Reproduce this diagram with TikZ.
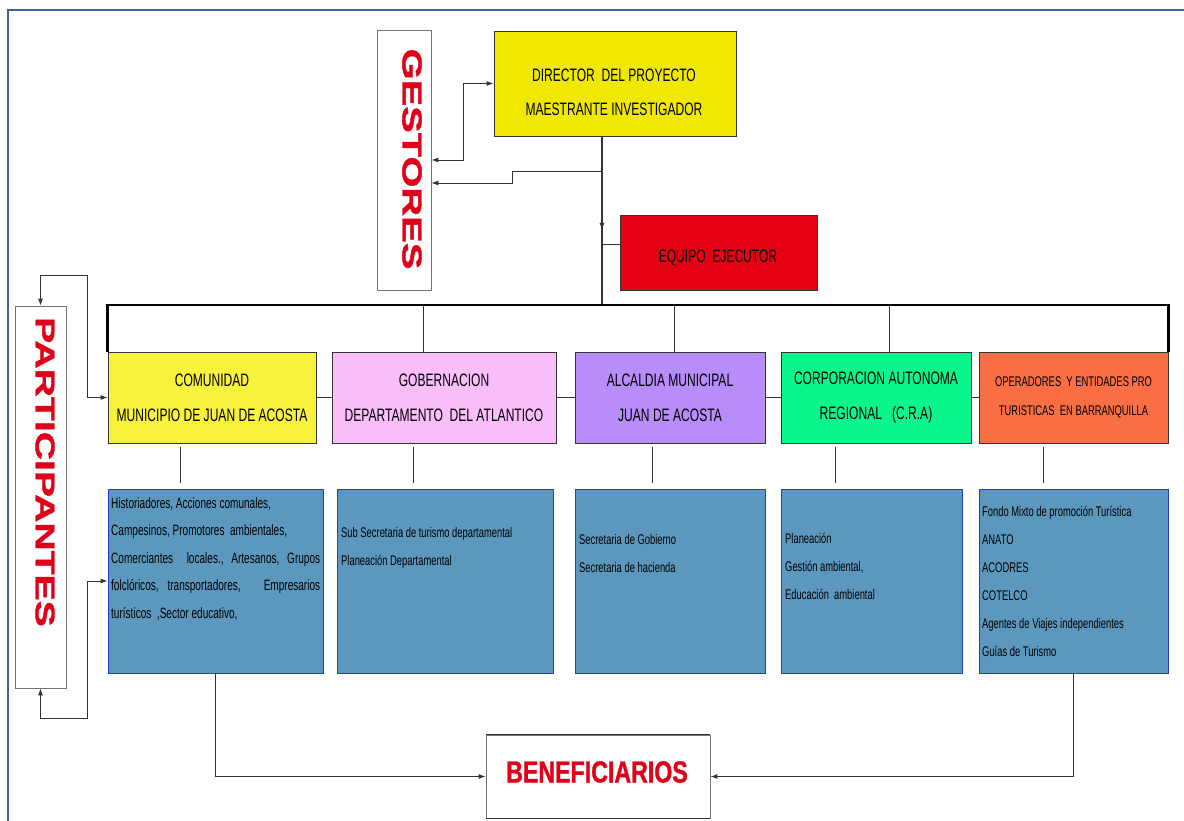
\documentclass[tikz,border=0pt]{standalone}
\usepackage{fontspec}
\setmainfont{Liberation Sans}
\newfontfamily\narrowfont{Liberation Sans}[FakeStretch=0.67]
\newfontfamily\widefont{Liberation Sans}[FakeStretch=1.45,FakeBold=1.5]
\newfontfamily\tightfont{Liberation Sans}[FakeStretch=0.76,FakeBold=1]
\usetikzlibrary{arrows.meta}
\definecolor{frameblue}{RGB}{62,100,160}
\definecolor{diryellow}{RGB}{240,232,0}
\definecolor{comyellow}{RGB}{248,242,60}
\definecolor{gobpink}{RGB}{250,190,250}
\definecolor{alcpurple}{RGB}{184,140,250}
\definecolor{corpgreen}{RGB}{10,245,140}
\definecolor{operorange}{RGB}{250,110,70}
\definecolor{ejered}{RGB}{228,0,18}
\definecolor{cellblue}{RGB}{92,152,190}
\definecolor{celledge}{RGB}{40,60,190}
\definecolor{titlered}{RGB}{225,0,25}
\begin{document}
\begin{tikzpicture}[x=1pt,y=-1pt,
    box/.style={draw=black!80,line width=0.8pt,inner sep=0pt},
    head/.style={box,minimum height=91pt,align=center,font=\narrowfont\fontsize{18}{35}\selectfont},
    cell/.style={draw=celledge,fill=cellblue,line width=0.8pt,inner sep=0pt,minimum height=184pt},
    list/.style={anchor=north west,inner sep=0pt,align=left,font=\narrowfont\fontsize{14}{28}\selectfont},
    tag/.style={draw=black!55,line width=0.8pt,inner sep=0pt},
    bigred/.style={inner sep=0pt,text=titlered},
    link/.style={draw=black!80,line width=0.9pt},
    onehead/.style={-{Latex[length=7pt,width=5pt]}},
    twohead/.style={{Latex[length=7pt,width=5pt]}-{Latex[length=7pt,width=5pt]}}]
  \useasboundingbox (0,0) rectangle (1184,821);
  \draw[frameblue,line width=1.6pt] (1184,10) -- (8,10) -- (8,821);

  \node[tag,minimum width=54pt,minimum height=260pt] (gestores) at (404,160) {};
  \node[bigred,rotate=-90,font=\widefont\bfseries\fontsize{27.5}{30}\selectfont] (gestorestxt) at (412,159) {GESTORES};
  \node[box,fill=diryellow,minimum width=242pt,minimum height=105pt] (director) at (615,83.5) {};
  \node[inner sep=0pt,align=center,font=\narrowfont\fontsize{18}{34}\selectfont] (directortxt) at (614,92) {DIRECTOR\ \ DEL PROYECTO\\MAESTRANTE INVESTIGADOR};
  \node[box,fill=ejered,minimum width=197pt,minimum height=75pt] (equipo) at (718.5,252.5) {};
  \node[inner sep=0pt,font=\narrowfont\fontsize{18}{22}\selectfont] (equipotxt) at (718,258) {EQUIPO\ \ EJECUTOR};

  \node[head,fill=comyellow,minimum width=208pt] (comunidad) at (212,397.5) {COMUNIDAD\\MUNICIPIO DE JUAN DE ACOSTA};
  \node[head,fill=gobpink,minimum width=224pt] (gobernacion) at (444,397.5) {GOBERNACION\\DEPARTAMENTO\ \ DEL ATLANTICO};
  \node[head,fill=alcpurple,minimum width=190pt] (alcaldia) at (670,397.5) {ALCALDIA MUNICIPAL\\JUAN DE ACOSTA};
  \node[head,fill=corpgreen,minimum width=190pt] (corporacion) at (876,397.5) {CORPORACION AUTONOMA\\REGIONAL\ \ \ (C.R.A)};
  \node[head,fill=operorange,minimum width=189pt,font=\narrowfont\fontsize{14}{29}\selectfont] (operadores) at (1073.5,397.5) {OPERADORES\ \ Y ENTIDADES PRO\\TURISTICAS\ \ EN BARRANQUILLA};

  \node[cell,minimum width=215pt] (historiadores) at (215.5,581) {};
  \node[cell,minimum width=216pt] (subsecretaria) at (445,581) {};
  \node[cell,minimum width=190pt] (secretarias) at (670,581) {};
  \node[cell,minimum width=181pt] (planeacion) at (871.5,581) {};
  \node[cell,minimum width=189pt] (fondo) at (1073.5,581) {};
  \node[list,font=\narrowfont\fontsize{15}{27.5}\selectfont] (historiadorestxt) at (111,497) {Historiadores, Acciones comunales,\\Campesinos, Promotores\ \ ambientales,\\\makebox[209pt][s]{Comerciantes\ \ locales., Artesanos, Grupos}\\\makebox[209pt][s]{folclóricos, transportadores,\ \ \ Empresarios}\\turísticos\ \ ,Sector educativo,};
  \node[list] (subsecretariatxt) at (341,527) {Sub Secretaria de turismo departamental\\Planeación Departamental};
  \node[list] (secretariastxt) at (579,534) {Secretaria de Gobierno\\Secretaria de hacienda};
  \node[list] (planeaciontxt) at (785,533) {Planeación\\Gestión ambiental,\\Educación\ \ ambiental};
  \node[list] (fondotxt) at (982,506) {Fondo Mixto de promoción Turística\\ANATO\\ACODRES\\COTELCO\\Agentes de Viajes independientes\\Guías de Turismo};

  \node[tag,minimum width=51pt,minimum height=382pt] (participantes) at (40.5,497) {};
  \node[bigred,rotate=-90,font=\widefont\bfseries\fontsize{27}{30}\selectfont] (participantestxt) at (45,472) {PARTICIPANTES};
  \node[tag,minimum width=224pt,minimum height=83pt] (beneficiarios) at (598,776.5) {};
  \draw[black!80,line width=1.6pt] (beneficiarios.north west) -- (beneficiarios.north east);
  \draw[black!80,line width=1.6pt] (beneficiarios.south west) -- (beneficiarios.south east);
  \node[bigred,font=\tightfont\bfseries\fontsize{30.5}{32}\selectfont] (beneficiariostxt) at (597,772) {BENEFICIARIOS};

  \coordinate (trunktop) at (602,136);
  \coordinate (split) at (602,171);
  \coordinate (trunktip) at (602,230);
  \coordinate (branch) at (602,244);
  \coordinate (bus) at (602,305);
  \coordinate (loopup) at (87,275);
  \coordinate (loopdown) at (87,718);

  \draw[link,line width=1.3pt] (trunktop) -- (bus);
  \draw[link,onehead] (trunktop) -- (trunktip);
  \draw[link,twohead] (gestores.east) -- ++(32,0) |- (director.west);
  \draw[link,onehead] (split) -- ++(-90,0) |- (gestores.east |- 0,183);
  \draw[link] (branch) -- (equipo.west |- branch);

  \draw[link] ([xshift=-21pt]gobernacion.north) -- ++(0,-47);
  \draw[link] ([xshift=4pt]alcaldia.north) -- ++(0,-47);
  \draw[link] ([xshift=13pt]corporacion.north) -- ++(0,-47);
  \draw[black,line width=2.4pt] (comunidad.north west) -- (comunidad.north west |- bus) -- (operadores.north east |- bus) -- (operadores.north east);

  \draw[link] (comunidad.east) -- (gobernacion.west);
  \draw[link] (gobernacion.east) -- (alcaldia.west);
  \draw[link] (alcaldia.east) -- (corporacion.west);
  \draw[link] (corporacion.east) -- (operadores.west);

  \draw[link] ([xshift=-32pt,yshift=-4pt]comunidad.south) -- ++(0,36);
  \draw[link] ([xshift=-31pt,yshift=-4pt]gobernacion.south) -- ++(0,36);
  \draw[link] ([xshift=-18pt,yshift=-4pt]alcaldia.south) -- ++(0,36);
  \draw[link] ([xshift=-41pt,yshift=-4pt]corporacion.south) -- ++(0,36);
  \draw[link] ([xshift=-30pt,yshift=-4pt]operadores.south) -- ++(0,36);

  \draw[link,onehead] (historiadores.south) |- (beneficiarios.west);
  \draw[link,onehead] (fondo.south) |- (beneficiarios.east);
  \draw[link,twohead] (participantes.north) |- (loopup) |- (comunidad.west);
  \draw[link,twohead] (participantes.south) |- (loopdown) |- (historiadores.west);
\end{tikzpicture}
\end{document}
